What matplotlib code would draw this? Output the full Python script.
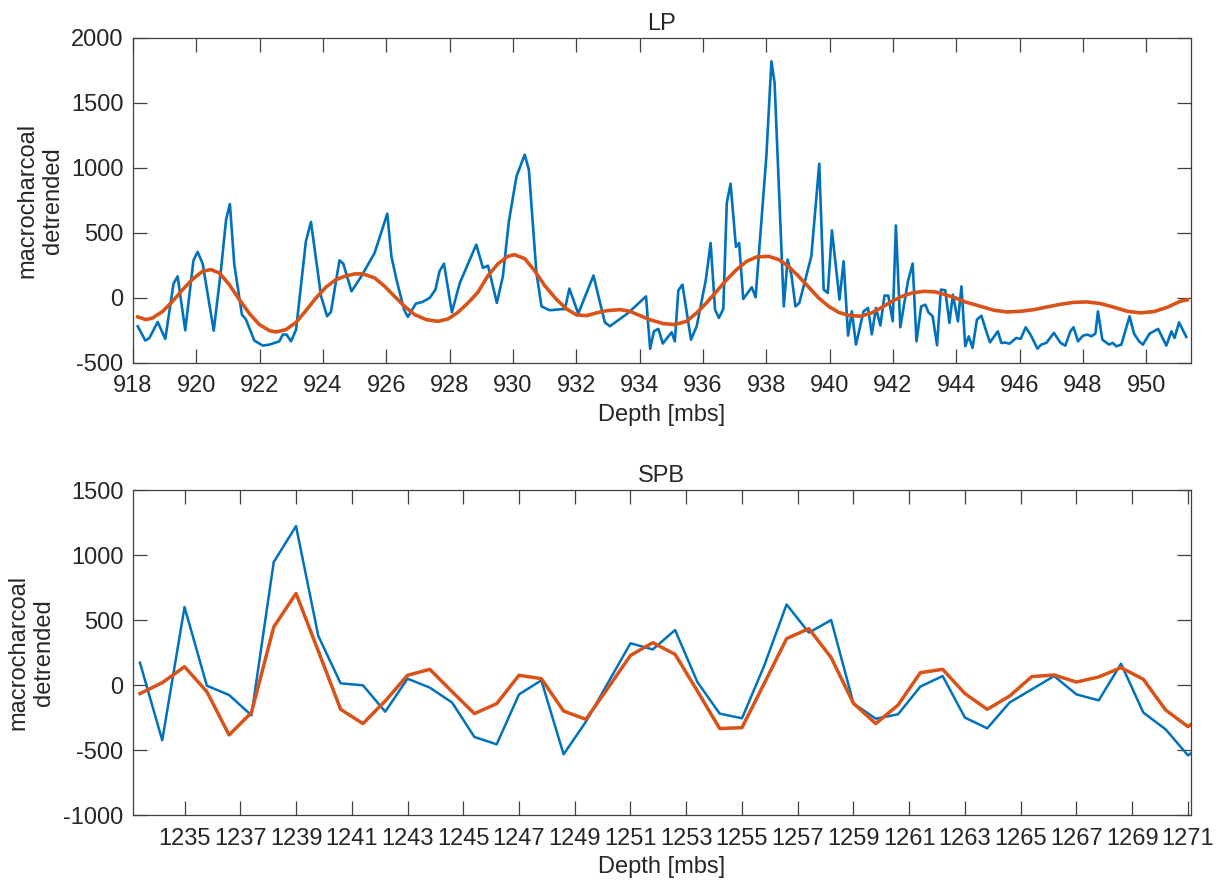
import numpy as np
import matplotlib
matplotlib.use('Agg')
import matplotlib.pyplot as plt

plt.rcParams['font.family'] = ['Liberation Sans', 'DejaVu Sans']
plt.rcParams['axes.unicode_minus'] = False

BLUE = '#0072BD'
ORANGE = '#D95319'

# LP: raw macrocharcoal (detrended), irregular depth spacing
lp_depth = [918.15, 918.39, 918.52, 918.78, 919.02, 919.28, 919.41, 919.65, 919.91, 920.04,
            920.20, 920.55, 920.78, 920.94, 921.06, 921.20, 921.44, 921.57, 921.83, 922.10,
            922.31, 922.62, 922.73, 922.85, 922.99, 923.15, 923.46, 923.62, 923.94, 924.13,
            924.25, 924.52, 924.64, 924.90, 925.21, 925.63, 926.03, 926.16, 926.32, 926.56,
            926.68, 926.93, 927.14, 927.37, 927.55, 927.68, 927.82, 928.07, 928.32, 928.84,
            929.05, 929.21, 929.49, 929.68, 929.87, 930.11, 930.37, 930.50, 930.74, 930.90,
            931.16, 931.38, 931.64, 931.78, 932.06, 932.54, 932.90, 933.06, 933.64, 934.20,
            934.33, 934.45, 934.59, 934.73, 935.01, 935.11, 935.22, 935.35, 935.62, 935.80,
            936.09, 936.24, 936.38, 936.50, 936.64, 936.75, 936.87, 937.04, 937.14, 937.27,
            937.54, 937.66, 938.00, 938.16, 938.26, 938.55, 938.67, 938.79, 938.92, 939.04,
            939.42, 939.67, 939.81, 939.94, 940.07, 940.31, 940.44, 940.58, 940.70, 940.83,
            941.07, 941.21, 941.33, 941.46, 941.60, 941.73, 941.85, 941.99, 942.09, 942.23,
            942.47, 942.62, 942.74, 942.89, 943.02, 943.12, 943.25, 943.39, 943.51, 943.65,
            943.78, 943.89, 944.05, 944.16, 944.28, 944.39, 944.51, 944.65, 944.79, 944.92,
            945.06, 945.31, 945.42, 945.55, 945.68, 945.89, 946.03, 946.19, 946.34, 946.56,
            946.68, 946.84, 947.08, 947.29, 947.44, 947.60, 947.70, 947.84, 948.00, 948.14,
            948.26, 948.39, 948.47, 948.61, 948.82, 948.94, 949.05, 949.21, 949.47, 949.61,
            949.77, 949.89, 950.10, 950.37, 950.63, 950.79, 950.89, 951.03, 951.26]
lp_char = [-218, -328, -308, -185, -315, 110, 166, -249, 289, 354,
           264, -252, 218, 602, 723, 256, -128, -167, -328, -367,
           -359, -334, -282, -282, -334, -244, 435, 585, 12, -141,
           -108, 289, 264, 51, 166, 346, 648, 320, 141, -90,
           -146, -44, -31, 0, 64, 205, 264, -111, 115, 410,
           231, 248, -38, 166, 589, 935, 1102, 987, 192, -65,
           -95, -90, -85, 72, -121, 172, -188, -218, -115, 12,
           -392, -257, -238, -351, -264, -334, 58, 102, -321, -218,
           141, 423, -90, -154, -85, 731, 879, 392, 423, -8,
           82, 5, 1090, 1820, 1654, -65, 295, 179, -65, -39,
           320, 1033, 64, 38, 520, -13, 282, -290, -103, -359,
           -103, -77, -280, -77, -213, 18, 18, -180, 558, -226,
           128, 264, -334, -65, -52, -111, -141, -364, 64, 59,
           -192, 25, -180, 89, -372, -295, -385, -167, -137, -238,
           -342, -257, -346, -344, -352, -308, -315, -226, -282, -390,
           -359, -346, -269, -346, -367, -257, -226, -334, -290, -282,
           -295, -275, -103, -321, -359, -346, -372, -359, -141, -275,
           -334, -359, -275, -238, -367, -257, -308, -188, -300]

# LP: smooth (filtered) component
lp_fdepth = [918.15, 918.41, 918.62, 918.94, 919.25, 919.57, 919.89, 920.20, 920.46, 920.73,
             921.04, 921.36, 921.68, 921.99, 922.31, 922.52, 922.83, 923.15, 923.46, 923.78,
             924.09, 924.41, 924.68, 925.00, 925.26, 925.63, 925.95, 926.26, 926.58, 926.89,
             927.26, 927.63, 927.95, 928.26, 928.58, 928.89, 929.21, 929.53, 929.84, 930.05,
             930.37, 930.68, 931.00, 931.38, 931.69, 932.01, 932.33, 932.64, 932.96, 933.38,
             933.69, 934.01, 934.32, 934.75, 935.11, 935.48, 935.80, 936.11, 936.43, 936.75,
             937.06, 937.38, 937.69, 938.07, 938.39, 938.70, 939.02, 939.34, 939.65, 939.97,
             940.28, 940.60, 940.97, 941.33, 941.65, 941.97, 942.28, 942.60, 942.97, 943.34,
             943.65, 943.97, 944.28, 944.77, 945.19, 945.61, 946.03, 946.45, 946.87, 947.29,
             947.71, 948.14, 948.56, 948.98, 949.40, 949.82, 950.24, 950.66, 951.08, 951.29]
lp_filt = [-146, -167, -154, -103, -26, 64, 146, 205, 218, 192,
           102, -13, -121, -205, -252, -262, -244, -188, -98, 0,
           82, 141, 166, 185, 185, 154, 89, 12, -65, -128,
           -167, -180, -162, -111, -38, 43, 172, 264, 320, 333,
           302, 210, 95, -13, -85, -131, -136, -115, -98, -90,
           -103, -136, -167, -198, -205, -180, -115, -38, 51, 141,
           218, 282, 315, 320, 295, 243, 166, 82, 0, -65,
           -111, -134, -141, -115, -72, -26, 12, 38, 51, 46,
           25, 0, -31, -65, -95, -108, -103, -90, -69, -49,
           -34, -31, -44, -72, -103, -115, -105, -72, -25, -15]

# SPB: regular 0.8 m sampling
spb_depth = [1233.4 + 0.8 * i for i in range(49)]
spb_char = [172, -425, 600, -5, -77, -233, 946, 1223, 377, 13,
            -2, -205, 49, -20, -135, -400, -456, -72, 36, -533,
            -282, 20, 321, 274, 423, 23, -220, -256, 150, 620,
            403, 500, -141, -259, -225, -12, 69, -251, -333, -135,
            -33, 69, -72, -118, 164, -212, -341, -541, -431]
spb_filt = [-66, 18, 141, -51, -384, -212, 446, 705, 261, -187,
            -297, -123, 75, 121, -51, -220, -143, 75, 49, -200,
            -264, -20, 228, 326, 236, -46, -335, -328, 13, 357,
            434, 211, -141, -297, -154, 95, 121, -66, -187, -85,
            65, 77, 23, 62, 134, 44, -192, -320, -202]

FS = 17
TXT = '#262626'


def style_axes(ax):
    for s in ax.spines.values():
        s.set_color('#404040')
        s.set_linewidth(0.9)
    ax.tick_params(direction='in', length=10, width=0.9, color='#404040',
                   top=True, right=True, labelsize=FS, labelcolor=TXT)
    ax.tick_params(axis='x', pad=9)
    ax.tick_params(axis='y', pad=7)


fig = plt.figure(figsize=(12.2, 8.83), dpi=100)
ax1 = fig.add_axes([0.109, 0.589, 0.867, 0.368])
ax2 = fig.add_axes([0.109, 0.077, 0.867, 0.368])

ax1.plot(lp_depth, lp_char, color=BLUE, lw=1.9)
ax1.plot(lp_fdepth, lp_filt, color=ORANGE, lw=2.6)
ax1.set_xlim(918, 951.4)
ax1.set_ylim(-500, 2000)
ax1.set_xticks(np.arange(918, 951, 2))
ax1.set_yticks(np.arange(-500, 2001, 500))
ax1.set_title('LP', fontsize=FS, color=TXT, pad=6)
ax1.set_xlabel('Depth [mbs]', fontsize=FS, color=TXT, labelpad=5)
ax1.set_ylabel('macrocharcoal\ndetrended', fontsize=FS, color=TXT, labelpad=5)
style_axes(ax1)

ax2.plot(spb_depth, spb_char, color=BLUE, lw=1.8)
ax2.plot(spb_depth, spb_filt, color=ORANGE, lw=2.5)
ax2.set_xlim(1233.15, 1271.1)
ax2.set_ylim(-1000, 1500)
ax2.set_xticks(np.arange(1235, 1272, 2))
ax2.set_yticks(np.arange(-1000, 1501, 500))
ax2.set_title('SPB', fontsize=FS, color=TXT, pad=6)
ax2.set_xlabel('Depth [mbs]', fontsize=FS, color=TXT, labelpad=5)
ax2.set_ylabel('macrocharcoal\ndetrended', fontsize=FS, color=TXT, labelpad=6)
style_axes(ax2)

plt.savefig('out.png', dpi=100)
